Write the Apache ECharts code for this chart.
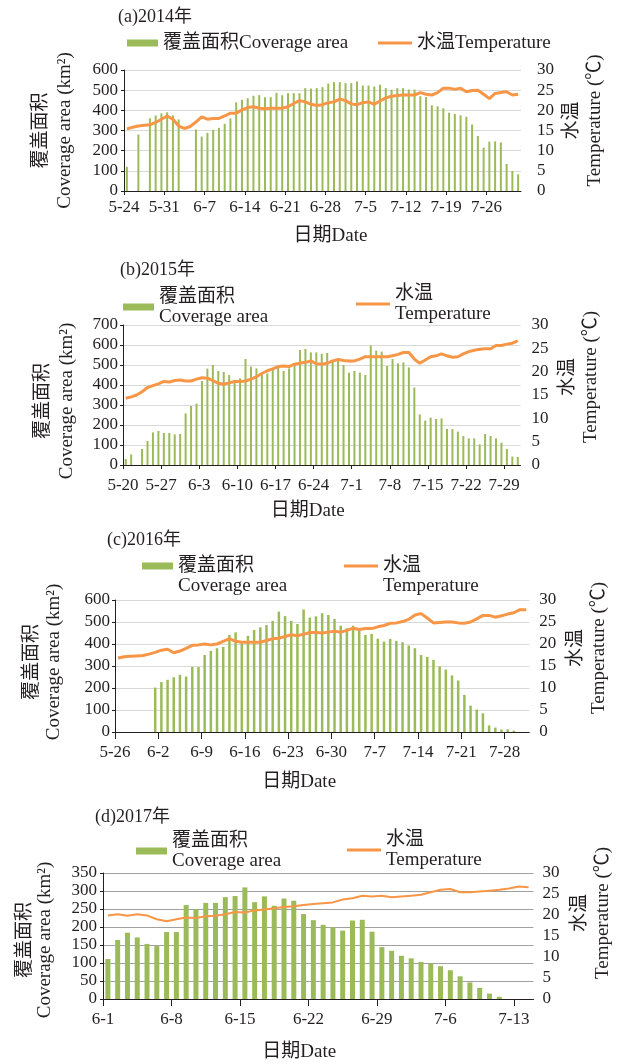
<!DOCTYPE html>
<html>
<head>
<meta charset="utf-8">
<script src="https://cdn.jsdelivr.net/npm/echarts@6/dist/echarts.min.js"></script>
<style>
  html, body { margin: 0; padding: 0; background: #fff; }
  #chart { width: 624px; height: 1064px; }
</style>
</head>
<body>
<div id="chart"></div>
<script>
// (a) 2014: one value per day from 5-24, null = no observation
const ticksA = ['5-24', '5-31', '6-7', '6-14', '6-21', '6-28', '7-5', '7-12', '7-19', '7-26'];
const areaA = [120, null, 280, null, 360, 375, 385, 390, 375, 355,
  null, null, 305, 270, 288, 303, 313, 333, 360, 440,
  452, 460, 472, 475, 465, 465, 487, 475, 485, 485,
  485, 510, 508, 510, 515, 533, 540, 540, 535, 535,
  543, 523, 523, 518, 527, 510, 502, 510, 510, 503,
  503, 470, 466, 425, 420, 410, 388, 382, 375, 368,
  330, 273, 215, 245, 246, 241, 134, 99, 83];
const tempA = [15.4, 15.8, 16.1, 16.3, 16.4, 17.0, 17.8, 18.6, 17.8, 16.1,
  15.5, 16.0, 17.1, 18.4, 17.8, 18.0, 18.0, 18.6, 19.3, 19.3,
  20.1, 20.7, 20.9, 20.5, 20.4, 20.5, 20.5, 20.5, 20.9, 21.7,
  22.4, 22.1, 21.5, 21.2, 21.4, 21.9, 22.1, 22.8, 22.4, 21.6,
  21.4, 21.9, 22.1, 21.5, 22.3, 23.1, 23.5, 23.7, 23.8, 23.8,
  23.8, 24.4, 24.0, 23.8, 24.4, 25.5, 25.5, 25.2, 25.5, 24.6,
  24.9, 25.0, 24.0, 22.9, 24.2, 24.4, 24.6, 23.8, 24.0];

// (b) 2015: from 5-20
const ticksB = ['5-20', '5-27', '6-3', '6-10', '6-17', '6-24', '7-1', '7-8', '7-15', '7-22', '7-29'];
const areaB = [30, 53, null, 80, 120, 163, 170, 160, 160, 153,
  155, 258, 295, 307, 420, 482, 500, 470, 465, 450,
  417, 433, 530, 492, 483, 450, 458, 475, 492, 470,
  483, 500, 575, 580, 563, 563, 556, 560, 520, 520,
  500, 462, 470, 462, 450, 597, 572, 567, 495, 530,
  508, 513, 488, 387, 253, 222, 237, 230, 233, 180,
  180, 167, 145, 133, 133, 103, 155, 145, 133, 112,
  80, 42, 40];
const tempB = [14.3, 14.6, 15.0, 15.7, 16.6, 17.0, 17.4, 17.9, 17.8, 18.1,
  18.2, 18.0, 18.0, 18.4, 18.7, 18.6, 18.1, 17.5, 17.3, 17.6,
  17.9, 17.9, 18.0, 18.4, 18.9, 19.6, 20.2, 20.6, 21.1, 21.2,
  21.1, 21.6, 21.8, 22.0, 22.3, 21.7, 21.6, 21.8, 22.3, 22.6,
  22.4, 22.3, 22.3, 22.7, 23.2, 23.2, 23.2, 23.2, 23.2, 23.4,
  23.7, 24.1, 24.1, 22.7, 21.8, 22.5, 23.2, 23.4, 23.8, 23.4,
  23.1, 23.2, 23.8, 24.3, 24.6, 24.8, 24.9, 24.9, 25.6, 25.6,
  25.9, 26.1, 26.6];

// (c) 2016: from 5-26
const ticksC = ['5-26', '6-2', '6-9', '6-16', '6-23', '6-30', '7-7', '7-14', '7-21', '7-28'];
const areaC = [null, null, null, null, null, null, 202, 227, 237, 249,
  260, 252, 296, 295, 350, 369, 381, 387, 441, 453,
  403, 437, 464, 476, 486, 505, 547, 527, 505, 491,
  557, 520, 526, 540, 532, 514, 483, 471, 483, 468,
  441, 446, 424, 411, 423, 414, 408, 393, 381, 350,
  341, 328, 298, 284, 257, 234, 169, 120, 102, 85,
  30, 20, 11, 12, 6, null, null];
const tempC = [16.8, 17.1, 17.2, 17.3, 17.4, 17.7, 18.1, 18.6, 18.8, 18.0,
  18.4, 19.0, 19.7, 19.8, 20.0, 19.8, 20.0, 20.6, 21.2, 20.6,
  20.4, 20.4, 20.4, 20.4, 20.8, 21.2, 21.3, 21.7, 22.1, 21.9,
  22.2, 22.6, 22.6, 22.5, 22.7, 22.9, 22.7, 23.1, 23.6, 23.3,
  23.5, 23.5, 23.9, 24.2, 24.7, 24.8, 25.1, 25.6, 26.6, 26.9,
  25.9, 24.8, 24.9, 25.0, 25.0, 24.8, 24.7, 25.0, 25.7, 26.5,
  26.5, 26.1, 26.4, 26.8, 27.1, 27.8, 27.8];

// (d) 2017: from 6-1
const ticksD = ['6-1', '6-8', '6-15', '6-22', '6-29', '7-6', '7-13'];
const areaD = [111, 164, 184, 171, 153, 147, 186, 186, 261, 249,
  267, 267, 283, 286, 310, 269, 285, 259, 279, 273,
  236, 219, 206, 199, 190, 218, 220, 187, 144, 134,
  120, 113, 103, 98, 91, 80, 63, 46, 31, 15,
  6, null, null, null];
const tempD = [19.9, 20.2, 19.8, 20.2, 19.9, 19.0, 18.5, 19.0, 19.4, 19.3,
  19.7, 19.8, 20.2, 20.7, 20.6, 21.1, 21.3, 21.6, 21.9, 22.1,
  22.4, 22.6, 22.8, 23.0, 23.7, 24.0, 24.6, 24.4, 24.6, 24.2,
  24.4, 24.6, 24.8, 25.4, 26.0, 26.2, 25.4, 25.4, 25.6, 25.8,
  26.0, 26.3, 26.8, 26.6];

const AREA = '覆盖面积Coverage area';
const TEMP = '水温Temperature';
const AREA_LINES = ['覆盖面积', 'Coverage area'];
const TEMP_LINES = ['水温', 'Temperature'];
const FONT = '"Liberation Serif", "Noto Sans CJK SC", serif';
const INK = '#231F20';
const GREEN = '#9BBB59';
const ORANGE = '#F79646';

// layout of each panel
// legend mode: 'one' = single line, 'two' = two lines with icon centred, 'split' = icon beside first line
const panels = [
  { title: '(a)2014年', ticks: ticksA, area: areaA, temp: tempA, areaMax: 600, areaStep: 100,
    grid: { left: 124, top: 70, width: 397, height: 121 }, titlePos: [118, 8],
    legendArea: [127, 33], legendTemp: [378, 33], legendMode: 'one',
    barWidth: 2, lineWidth: 3, gridColor: '#D9D9D9', tickLen: 4,
    labelMargin: 8, xNameGap: 36, xNamePad: [0, 0, 0, 16],
    leftGap: 47, leftPad: [0, 0, 0, 0], leftLH: 24, leftMargin: 6,
    rightGap: 40, rightPad: [0, 0, 0, 20], rightMargin: 16 },
  { title: '(b)2015年', ticks: ticksB, area: areaB, temp: tempB, areaMax: 700, areaStep: 100,
    grid: { left: 123, top: 325, width: 397.5, height: 140 }, titlePos: [120, 261],
    legendArea: [123, 287], legendTemp: [356, 284], legendMode: 'two',
    barWidth: 2, lineWidth: 3, gridColor: '#D9D9D9', tickLen: 4,
    labelMargin: 12, xNameGap: 37, xNamePad: [0, 28, 0, 0],
    leftGap: 44, leftPad: [0, 12, 0, 0], leftLH: 24, leftMargin: 5,
    rightGap: 36, rightPad: [0, 0, 0, 36], rightMargin: 11 },
  { title: '(c)2016年', ticks: ticksC, area: areaC, temp: tempC, areaMax: 600, areaStep: 100,
    grid: { left: 115, top: 600, width: 414.3, height: 132 }, titlePos: [107, 531],
    legendArea: [142, 556], legendTemp: [344, 556], legendMode: 'split',
    barWidth: 2.5, lineWidth: 3, gridColor: '#D9D9D9', tickLen: 7,
    labelMargin: 12, xNameGap: 41, xNamePad: [0, 46, 0, 0],
    leftGap: 50, leftPad: [0, 0, 0, 8], leftLH: 22, leftMargin: 5,
    rightGap: 35, rightPad: [0, 0, 0, 36], rightMargin: 10 },
  { title: '(d)2017年', ticks: ticksD, area: areaD, temp: tempD, areaMax: 350, areaStep: 50,
    grid: { left: 103, top: 873, width: 430.5, height: 126 }, titlePos: [95, 808],
    legendArea: [136, 831], legendTemp: [347, 830], legendMode: 'two',
    barWidth: 5, lineWidth: 2, gridColor: '#A0A0A0', tickLen: 7,
    labelMargin: 12, xNameGap: 44, xNamePad: [0, 38, 0, 0],
    leftGap: 48, leftPad: [0, 8, 0, 0], leftLH: 20, leftMargin: 6,
    rightGap: 35, rightPad: [0, 0, 0, 46], rightMargin: 9 }
];

const txt = (size, extra) => Object.assign({ fontFamily: FONT, fontSize: size, color: INK, fontWeight: 'normal' }, extra || {});

const option = {
  animation: false,
  backgroundColor: '#fff',
  title: [], legend: [], grid: [], xAxis: [], yAxis: [], series: []
};

function addLegend(name, lines, pos, mode, iconW, iconH) {
  const base = {
    data: [name], left: pos[0], top: pos[1], padding: 0, selectedMode: false,
    itemWidth: iconW, itemHeight: iconH, textStyle: txt(19, { lineHeight: 20 })
  };
  if (mode === 'one') {
    option.legend.push(Object.assign({}, base, { icon: 'rect' }));
  } else if (mode === 'two') {
    option.legend.push(Object.assign({}, base, { icon: 'rect', formatter: () => lines.join('\n') }));
  } else {
    // icon sits beside the first line only, second line is a bare legend label underneath
    option.legend.push(Object.assign({}, base, { icon: 'rect', formatter: () => lines[0] }));
    option.legend.push(Object.assign({}, base, { top: pos[1] + 20, icon: 'none', formatter: () => lines[1] }));
  }
}

panels.forEach((p, i) => {
  const days = p.area.length;
  const tickVals = p.ticks.map((t, k) => k * 7);

  option.title.push({
    text: p.title, left: p.titlePos[0], top: p.titlePos[1], padding: 0,
    textStyle: txt(18)
  });

  addLegend(AREA, AREA_LINES, p.legendArea, p.legendMode, 31, 7);
  addLegend(TEMP, TEMP_LINES, p.legendTemp, p.legendMode, 34, 3);

  option.grid.push(Object.assign({ outerBoundsMode: 'none' }, p.grid));

  option.xAxis.push({
    type: 'value', gridIndex: i, min: 0, max: days,
    name: '日期Date', nameLocation: 'middle', nameGap: p.xNameGap, nameMoveOverlap: false,
    nameTextStyle: txt(19, { padding: p.xNamePad }),
    axisLine: { show: true, onZero: false, lineStyle: { color: INK, width: 1 } },
    axisTick: { show: true, customValues: tickVals, length: p.tickLen, lineStyle: { color: INK } },
    axisLabel: { customValues: tickVals, margin: p.labelMargin, formatter: (v) => p.ticks[Math.round(v / 7)], ...txt(17) },
    splitLine: { show: false }
  });

  option.yAxis.push({
    type: 'value', gridIndex: i, position: 'left', min: 0, max: p.areaMax, interval: p.areaStep,
    name: '覆盖面积\nCoverage area (km²)', nameLocation: 'middle', nameRotate: 90,
    nameGap: p.leftGap, nameMoveOverlap: false,
    nameTextStyle: txt(19, { lineHeight: p.leftLH, padding: p.leftPad }),
    axisLine: { show: true, lineStyle: { color: INK, width: 1 } },
    axisTick: { show: true, length: 3, lineStyle: { color: INK } },
    axisLabel: { margin: p.leftMargin, ...txt(17) },
    splitLine: { show: true, lineStyle: { color: p.gridColor, width: 1 } }
  });
  option.yAxis.push({
    type: 'value', gridIndex: i, position: 'right', min: 0, max: 30, interval: 5,
    name: '水温\nTemperature (℃)', nameLocation: 'middle', nameRotate: 90,
    nameGap: p.rightGap, nameMoveOverlap: false,
    nameTextStyle: txt(19, { lineHeight: 23, padding: p.rightPad }),
    axisLine: { show: false },
    axisTick: { show: false },
    axisLabel: { margin: p.rightMargin, ...txt(17) },
    splitLine: { show: false }
  });

  option.series.push({
    name: AREA, type: 'bar', xAxisIndex: i, yAxisIndex: 2 * i,
    barWidth: p.barWidth, itemStyle: { color: GREEN },
    data: p.area.map((v, k) => [k + 0.5, v])
  });
  option.series.push({
    name: TEMP, type: 'line', xAxisIndex: i, yAxisIndex: 2 * i + 1,
    showSymbol: false, symbol: 'none', z: 3,
    lineStyle: { color: ORANGE, width: p.lineWidth }, itemStyle: { color: ORANGE },
    data: p.temp.map((v, k) => [k + 0.5, v])
  });
});

const chart = echarts.init(document.getElementById('chart'), null, { renderer: 'canvas' });
chart.setOption(option);
</script>
</body>
</html>
